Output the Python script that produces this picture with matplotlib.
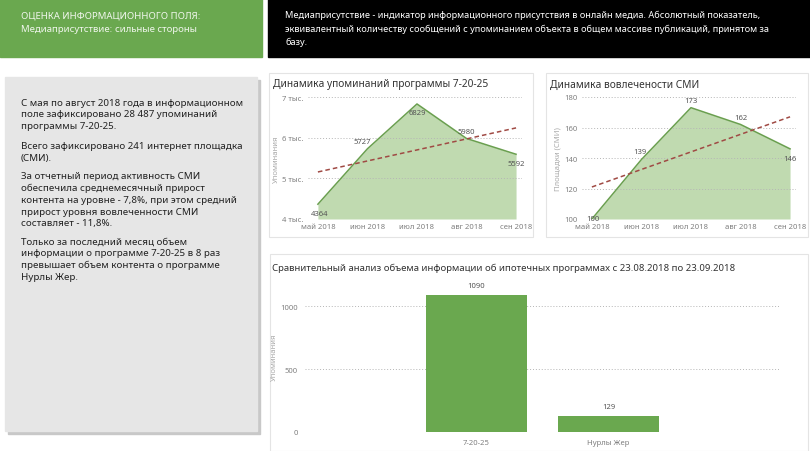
"""
Дашборд: медиаприсутствие программы 7-20-25.
"""
import matplotlib
matplotlib.use('Agg')
import matplotlib.pyplot as plt
from matplotlib.patches import Rectangle
import numpy as np

plt.rcParams['font.family'] = ['Noto Sans', 'DejaVu Sans']

W, H = 810, 452

months = ['май 2018', 'июн 2018', 'июл 2018', 'авг 2018', 'сен 2018']
mentions = [4364, 5727, 6829, 5980, 5592]
media = [100, 139, 173, 162, 146]

programs = ['7-20-25', 'Нурлы Жер']
program_mentions = [1090, 129]

header_line1 = 'ОЦЕНКА ИНФОРМАЦИОННОГО ПОЛЯ:'
header_line2a = 'Медиаприсутствие: '
header_line2b = 'сильные стороны'
definition = ('Медиаприсутствие - индикатор информационного присутствия в онлайн медиа. Абсолютный показатель,\n'
              'эквивалентный количеству сообщений с упоминанием объекта в общем массиве публикаций, принятом за\n'
              'базу.')
paragraphs = [
    ['С мая по август 2018 года в информационном', 'поле зафиксировано 28 487 упоминаний',
     'программы 7-20-25.'],
    ['Всего зафиксировано 241 интернет площадка', '(СМИ).'],
    ['За отчетный период активность СМИ', 'обеспечила среднемесячный прирост',
     'контента на уровне - 7,8%, при этом средний', 'прирост уровня вовлеченности СМИ',
     'составляет - 11,8%.'],
    ['Только за последний месяц объем', 'информации о программе 7-20-25 в 8 раз',
     'превышает объем контента о программе', 'Нурлы Жер.'],
]

GREEN = '#6aa84f'
FILL = '#c0dab0'
LINE = '#6a9f4f'
TREND = '#a04a44'
TICK = '#808080'


def px_axes(fig, x, y, w, h):
    return fig.add_axes([x / W, 1 - (y + h) / H, w / W, h / H])


fig = plt.figure(figsize=(W / 100, H / 100), dpi=100)
bg = fig.add_axes([0, 0, 1, 1])
bg.set_xlim(0, W)
bg.set_ylim(H, 0)
bg.axis('off')

# header blocks
bg.add_patch(Rectangle((0, 0), 262, 58, color=GREEN))
bg.add_patch(Rectangle((268, 0), 542, 58, color='black'))
bg.text(21, 16, header_line1, color='#f0f6ec', fontsize=6.9, va='center')
t = bg.text(21, 30, header_line2a, color='#f0f6ec', fontsize=6.9, va='center')
fig.canvas.draw()
bb = t.get_window_extent().transformed(bg.transData.inverted())
bg.text(bb.x1, 30, header_line2b, color='#f0f6ec', fontsize=6.9, va='center',
        fontweight='bold')
bg.text(285, 29, definition, color='white', fontsize=6.6, va='center',
        linespacing=1.6)

# text panel
bg.add_patch(Rectangle((8, 81), 252, 354, color='#c8c8c8'))
bg.add_patch(Rectangle((5, 78), 252, 354, color='#e6e6e6'))
para_y = [103, 147, 177, 242]
for py, lines in zip(para_y, paragraphs):
    for i, line in enumerate(lines):
        bg.text(21, py + i * 11.7, line, fontsize=7.0, color='#222222', va='center')

# chart panels
for (x0, y0, x1, y1) in [(269, 74, 533, 238), (546, 74, 808, 238), (270, 255, 808, 452)]:
    bg.add_patch(Rectangle((x0, y0), x1 - x0, y1 - y0, facecolor='white',
                           edgecolor='#e4e4e4', lw=0.8))

bg.text(273, 85, 'Динамика упоминаний программы 7-20-25', fontsize=7.3, color='#333333', va='center')
bg.text(550, 85, 'Динамика вовлечености СМИ', fontsize=7.3, color='#333333', va='center')
bg.text(272, 268, 'Сравнительный анализ объема информации об ипотечных программах с 23.08.2018 по 23.09.2018',
        fontsize=6.9, color='#333333', va='center')


def line_chart(ax, values, ylim, yticks, yticklabels, ylabel, offsets):
    x = np.arange(len(values))
    ax.fill_between(x, ylim[0], values, color=FILL, lw=0)
    ax.plot(x, values, color=LINE, lw=1.1)
    k, b = np.polyfit(x, values, 1)
    ax.plot(x, k * x + b, color=TREND, lw=1.1, ls=(0, (3, 2)))
    for xi, v, off in zip(x, values, offsets):
        ax.annotate(str(v), (xi, v), xytext=off, textcoords='offset points',
                    ha='center', va='center', fontsize=5.5, color='#555555')
    ax.set_xlim(-0.2, len(values) - 1 + 0.12)
    ax.set_ylim(*ylim)
    ax.set_yticks(yticks)
    ax.set_yticklabels(yticklabels)
    ax.set_xticks(x)
    ax.set_xticklabels(months)
    ax.grid(axis='y', color='#b5b5b5', ls=(0, (1, 2)), lw=0.7)
    ax.set_axisbelow('line')
    for s in ax.spines.values():
        s.set_visible(False)
    ax.tick_params(length=0, labelsize=5.5, labelcolor=TICK, pad=3)
    ax.set_ylabel(ylabel, fontsize=5.5, color='#aaaaaa', labelpad=2)
    ax.patch.set_alpha(0)


ax1 = px_axes(fig, 308, 98, 214, 122)
line_chart(ax1, mentions, (4000, 7000), [4000, 5000, 6000, 7000],
           ['4 тыс.', '5 тыс.', '6 тыс.', '7 тыс.'], 'Упоминания',
           [(1, -7), (-4, 5), (0, -6), (0, 5), (0, -7)])

ax2 = px_axes(fig, 582, 98, 214, 122)
line_chart(ax2, media, (100, 180), [100, 120, 140, 160, 180],
           ['100', '120', '140', '160', '180'], 'Площадки (СМИ)',
           [(1, 0), (-1, 6), (0, 5), (0, 5), (0, -7)])

# bar chart
ax3 = px_axes(fig, 305, 282, 475, 151)
xb = np.arange(len(programs))
bars = ax3.bar(xb, program_mentions, width=0.76, color=GREEN)
for rect, v in zip(bars, program_mentions):
    ax3.annotate(str(v), (rect.get_x() + rect.get_width() / 2, v), xytext=(0, 7),
                 textcoords='offset points', ha='center', va='center',
                 fontsize=5.5, color='#555555')
ax3.set_xlim(-1.3, 2.3)
ax3.set_ylim(0, 1200)
ax3.set_yticks([0, 500, 1000])
ax3.set_xticks(xb)
ax3.set_xticklabels(programs)
ax3.grid(axis='y', color='#b5b5b5', ls=(0, (1, 2)), lw=0.7)
ax3.set_axisbelow(True)
for s in ax3.spines.values():
    s.set_visible(False)
ax3.tick_params(length=0, labelsize=5.5, labelcolor=TICK, pad=5)
ax3.set_ylabel('Упоминания', fontsize=5.5, color='#aaaaaa', labelpad=2)
ax3.patch.set_alpha(0)

fig.savefig('out.png', dpi=100)
